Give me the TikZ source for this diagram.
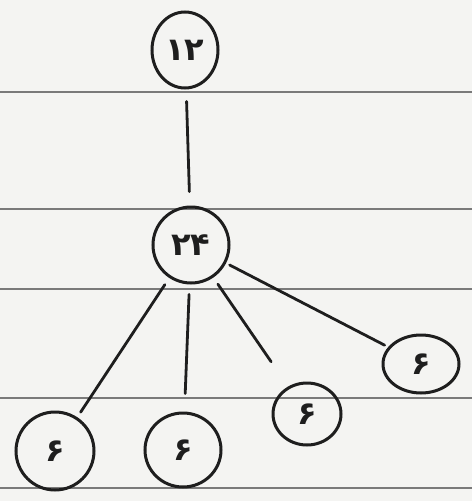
\documentclass[tikz,border=0pt]{standalone}
\usepackage{fontspec}
\usetikzlibrary{shapes.geometric}
\newfontfamily\arabicfont[Script=Arabic]{DejaVu Sans}
\definecolor{paper}{HTML}{F4F4F2}
\definecolor{rule}{HTML}{7A7A7A}
\definecolor{ink}{HTML}{1E1E1E}
\begin{document}
\begin{tikzpicture}[x=1pt,y=-1pt,
  numnode/.style={draw=ink,line width=3pt,ellipse,inner sep=0pt,text=ink,
    font=\arabicfont\bfseries\fontsize{32}{34}\selectfont},
  ruleline/.style={draw=rule,line width=1.5pt},
  edge/.style={draw=ink,line width=2.8pt,line cap=round}]
\fill[paper] (0,0) rectangle (472,501);
\useasboundingbox (0,0) rectangle (472,501);
% ruled lines
\draw[ruleline] (0,92) -- (472,92);
\draw[ruleline] (0,209) -- (472,209);
\draw[ruleline] (0,289) -- (472,289);
\draw[ruleline] (0,398) -- (472,398);
\draw[ruleline] (0,488) -- (472,488);
% nodes
\node[numnode,minimum width=66pt,minimum height=76pt] (top) at (185,50) {۱۲};
\node[numnode,minimum width=76pt,minimum height=76pt] (mid) at (191,245) {۲۴};
\node[numnode,minimum width=78pt,minimum height=78pt] (a) at (55,451) {۶};
\node[numnode,minimum width=76pt,minimum height=74pt] (b) at (183,450) {۶};
\node[numnode,minimum width=68pt,minimum height=62pt] (c) at (307,414) {۶};
\node[numnode,minimum width=76pt,minimum height=58pt] (d) at (421,364) {۶};
% edges
\draw[edge,shorten <=12pt,shorten >=14pt] (top) -- (mid);
\draw[edge,shorten <=8pt,shorten >=6pt] (mid) -- (a);
\draw[edge,shorten <=10pt,shorten >=18pt] (mid) -- (b);
\draw[edge,shorten <=8pt,shorten >=30pt] (mid) -- (c);
\draw[edge,shorten <=4pt,shorten >=4pt] (mid) -- (d);
\end{tikzpicture}
\end{document}
